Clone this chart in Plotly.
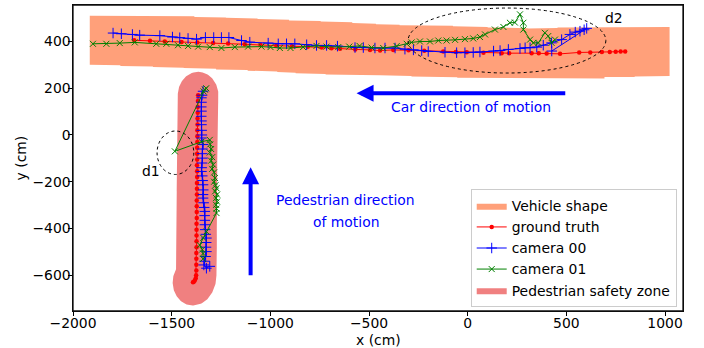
import numpy as np
import plotly.graph_objects as go

# ---------------- data (cm) ----------------
car_gt_x = [-1690, -1610, -1535, -1450, -1370, -1290, -1214, -1130, -1050, -970, -890, -810,
            -740, -690, -647, -570, -495, -444, -377, -300, -220, -124, -60, -5, 80, 172, 210,
            324, 360, 400, 468, 565, 621, 680, 720, 750, 775, 798]
car_gt_y = [405, 403, 400, 398, 396, 393, 391, 388, 385, 383, 380, 377,
            374, 371, 369, 366, 364, 361, 364, 362, 360, 357, 355, 354, 352, 350, 350,
            350, 350, 349, 347, 353, 353, 355, 355, 356, 357, 357]

cam0_car_x = [-1797, -1755, -1699, -1662, -1560, -1496, -1459, -1417, -1374, -1329, -1287, -1248,
              -1210, -1146, -1104, -1011, -960, -918, -876, -816, -766, -715, -660, -571, -529,
              -470, -419, -368, -318, -275, -233, -200, -115, -56, -14, 28, 62, 131, 164, 206,
              265, 291, 316, 350, 383, 425, 476, 518, 545, 569, 590, 603, 426]
cam0_car_y = [436, 433, 430, 427, 425, 419, 416, 413, 410, 417, 417, 417,
              417, 404, 397, 393, 390, 390, 390, 386, 383, 383, 380, 374, 374,
              372, 372, 372, 367, 364, 361, 357, 354, 352, 352, 353, 355, 359, 361, 366,
              370, 373, 373, 376, 384, 394, 408, 430, 440, 444, 450, 456, 359]

cam1_car_x = [-1899, -1831, -1763, -1687, -1578, -1527, -1468, -1417, -1366, -1307, -1248, -1180,
              -1113, -1045, -999, -952, -898, -834, -766, -715, -656, -600, -548, -487, -428,
              -360, -309, -284, -242, -191, -149, -107, -64, -14, 28, 62, 88, 138, 181, 214,
              239, 265, 282, 282, 316, 333, 358, 391, 408, 425, 442]
cam1_car_y = [390, 390, 393, 396, 390, 390, 384, 381, 378, 376, 372, 376,
              378, 378, 376, 372, 372, 376, 381, 378, 376, 378, 381, 374, 372,
              380, 390, 396, 400, 400, 404, 404, 407, 410, 413, 419, 430, 451, 462, 480,
              481, 516, 480, 451, 408, 394, 394, 437, 423, 394, 408]

ped_gt_x = [-1366, -1367, -1368, -1368, -1369, -1369, -1370, -1370, -1370, -1371, -1371, -1371,
            -1372, -1371, -1371, -1372, -1372, -1372, -1373, -1373, -1373, -1373, -1374, -1374,
            -1374, -1374, -1374, -1375, -1375, -1375, -1375, -1376, -1378, -1383, -1388, -1392]
ped_gt_y = [170, 145, 120, 95, 70, 45, 20, -5, -30, -55, -80, -105,
            -130, -155, -180, -205, -230, -255, -280, -305, -330, -355, -380, -405,
            -430, -455, -480, -505, -530, -555, -580, -600, -613, -622, -628, -630]

cam0_ped_x = [-1341, -1346, -1349, -1349, -1350, -1349, -1350, -1349, -1349, -1348, -1347, -1349,
              -1341, -1344, -1345, -1344, -1346, -1348, -1349, -1345, -1343, -1341, -1340, -1341,
              -1341, -1338, -1335, -1332, -1333, -1332, -1332, -1330, -1327, -1324, -1325, -1326,
              -1324, -1328, -1333, -1337, -1324, -1307]
cam0_ped_y = [187, 170, 159, 140, 120, 102, 80, 60, 44, 20, 0, -13,
              -41, -60, -80, -99, -120, -140, -156, -175, -195, -213, -235, -255,
              -270, -290, -310, -327, -345, -365, -384, -405, -425, -441, -460, -480,
              -499, -520, -540, -556, -570, -562]

cam1_ped_x = [-1341, -1341, -1345, -1358, -1340, -1324, -1273, -1273, -1275, -1270, -1275, -1270,
              -1280, -1273, -1278, -1285, -1281, -1285, -1295, -1290, -1300, -1295, -1307, -1300,
              -1305, -1307, -1349, -1484, -1338, -1325, -1332]
cam1_ped_y = [-530, -507, -490, -471, -440, -413, -334, -315, -299, -285, -270, -255,
              -241, -228, -215, -200, -184, -160, -145, -127, -110, -95, -75, -60,
              -40, -21, -29, -70, 186, 200, 194]

x_ticks = [-2000, -1500, -1000, -500, 0, 500, 1000]
y_ticks = [-600, -400, -200, 0, 200, 400]

# ---------------- derived shapes ----------------
CAR_HALF_LEN, CAR_HALF_W = 225, 105
bps = sorted(set([x - CAR_HALF_LEN for x in car_gt_x] + [x + CAR_HALF_LEN for x in car_gt_x]))
top_pts, bot_pts = [], []
for a, b in zip(bps[:-1], bps[1:]):
    m = 0.5 * (a + b)
    cov = [yy for xx, yy in zip(car_gt_x, car_gt_y) if abs(m - xx) <= CAR_HALF_LEN]
    if not cov:
        continue
    t = max(cov) + CAR_HALF_W
    bt = min(cov) - CAR_HALF_W
    top_pts += [(a, t), (b, t)]
    bot_pts += [(a, bt), (b, bt)]
veh_x = [p[0] for p in top_pts] + [p[0] for p in bot_pts[::-1]] + [top_pts[0][0]]
veh_y = [p[1] for p in top_pts] + [p[1] for p in bot_pts[::-1]] + [top_pts[0][1]]

RX, RY = 103, 100
px = np.array(ped_gt_x, float)
py = np.array(ped_gt_y, float)
ys = np.linspace(py.min() - RY + 0.01, py.max() + RY - 0.01, 400)
L, R = [], []
for yv in ys:
    d = np.abs(yv - py) < RY
    w = RX * np.sqrt(1 - ((yv - py[d]) / RY) ** 2)
    L.append((px[d] - w).min())
    R.append((px[d] + w).max())
zone_x = list(R) + list(L[::-1]) + [R[0]]
zone_y = list(ys) + list(ys[::-1]) + [ys[0]]

# ---------------- figure ----------------
FONT = "DejaVu Sans"
FS = 13.9
fig = go.Figure()

fig.add_trace(go.Scatter(x=veh_x, y=veh_y, fill="toself", fillcolor="#FFA07A",
                         mode="lines", line=dict(width=0, color="#FFA07A"),
                         name="Vehicle shape", legendrank=1, hoverinfo="skip"))
fig.add_trace(go.Scatter(x=zone_x, y=zone_y, fill="toself", fillcolor="#F08080",
                         mode="lines", line=dict(width=0, color="#F08080"),
                         name="Pedestrian safety zone", legendrank=5, hoverinfo="skip"))

gt_style = dict(mode="lines+markers", line=dict(color="red", width=1),
                marker=dict(symbol="circle", size=4.5, color="red"))
fig.add_trace(go.Scatter(x=car_gt_x, y=car_gt_y, name="ground truth", legendrank=2,
                         legendgroup="gt", **gt_style))
fig.add_trace(go.Scatter(x=ped_gt_x, y=ped_gt_y, name="ground truth", showlegend=False,
                         legendgroup="gt", **gt_style))

c0_style = dict(mode="lines+markers", line=dict(color="blue", width=1),
                marker=dict(symbol="cross-thin", size=7.5, color="blue",
                            line=dict(color="blue", width=1)))
fig.add_trace(go.Scatter(x=cam0_car_x, y=cam0_car_y, name="camera 00", legendrank=3,
                         legendgroup="c0", **c0_style))
fig.add_trace(go.Scatter(x=cam0_ped_x, y=cam0_ped_y, name="camera 00", showlegend=False,
                         legendgroup="c0", **c0_style))

c1_style = dict(mode="lines+markers", line=dict(color="green", width=1),
                marker=dict(symbol="x-thin", size=6, color="green",
                            line=dict(color="green", width=1)))
fig.add_trace(go.Scatter(x=cam1_car_x, y=cam1_car_y, name="camera 01", legendrank=4,
                         legendgroup="c1", **c1_style))
fig.add_trace(go.Scatter(x=cam1_ped_x, y=cam1_ped_y, name="camera 01", showlegend=False,
                         legendgroup="c1", **c1_style))

# dotted highlight ellipses
fig.add_shape(type="circle", xref="x", yref="y", x0=-302, x1=700, y0=265, y1=543,
              line=dict(color="black", width=1, dash="dot"))
fig.add_shape(type="circle", xref="x", yref="y", x0=-1574, x1=-1388, y0=-169, y1=17,
              line=dict(color="black", width=1, dash="dot"))
# axes frame
fig.add_shape(type="rect", xref="paper", yref="paper", x0=0, x1=1, y0=0, y1=1,
              line=dict(color="#111111", width=1.3), layer="above")

ann = []
ann.append(dict(x=742, y=501, text="d2", showarrow=False, font=dict(size=FS, color="black")))
ann.append(dict(x=-1604, y=-154, text="d1", showarrow=False, font=dict(size=FS, color="black")))
# direction arrows
ann.append(dict(x=-563, y=179, ax=502, ay=179, axref="x", ayref="y", text="",
                showarrow=True, arrowhead=2, arrowsize=0.85, arrowwidth=4, arrowcolor="blue"))
ann.append(dict(x=-1100, y=-138, ax=-1100, ay=-607, axref="x", ayref="y", text="",
                showarrow=True, arrowhead=2, arrowsize=0.85, arrowwidth=4, arrowcolor="blue"))
ann.append(dict(x=15, y=121, text="Car direction of motion", showarrow=False,
                font=dict(size=FS, color="blue")))
ann.append(dict(x=-617, y=-279, text="Pedestrian direction", showarrow=False,
                font=dict(size=FS, color="blue")))
ann.append(dict(x=-617, y=-373, text="of motion", showarrow=False,
                font=dict(size=FS, color="blue")))
for a in ann:
    a.setdefault("xref", "x")
    a.setdefault("yref", "y")
# axis titles
ann.append(dict(xref="paper", yref="paper", x=0.5, y=-0.094, yanchor="middle",
                text="x (cm)", showarrow=False, font=dict(size=FS, color="black")))
ann.append(dict(xref="paper", yref="paper", x=-0.0846, y=0.5, xanchor="center",
                yanchor="middle", textangle=-90, text="y (cm)", showarrow=False,
                font=dict(size=FS, color="black")))
fig.update_layout(annotations=ann)

axis_common = dict(showline=True, linecolor="black", linewidth=1.3, mirror=True,
                   ticks="outside", ticklen=3.5, tickwidth=1.1, tickcolor="black",
                   showgrid=False, zeroline=False,
                   tickfont=dict(family=FONT, size=FS, color="black"))
fig.update_xaxes(range=[-2000, 1091], tickvals=x_ticks, ticklabelstandoff=-4, **axis_common)
fig.update_yaxes(range=[-753, 556], tickvals=y_ticks, ticklabelstandoff=-5, **axis_common)

fig.update_layout(
    width=704, height=348,
    margin=dict(l=73, r=21, t=5, b=37, autoexpand=False),
    plot_bgcolor="white", paper_bgcolor="white",
    font=dict(family=FONT, size=FS, color="black"),
    legend=dict(x=0.9897, y=0.012, xanchor="right", yanchor="bottom",
                bgcolor="rgba(255,255,255,0.8)", bordercolor="#cccccc", borderwidth=1,
                tracegroupgap=0,
                font=dict(family=FONT, size=FS, color="black")),
)

fig.write_html("out.html", config={"displayModeBar": False},
               post_script="document.body.style.margin='0';document.body.style.padding='0';")
